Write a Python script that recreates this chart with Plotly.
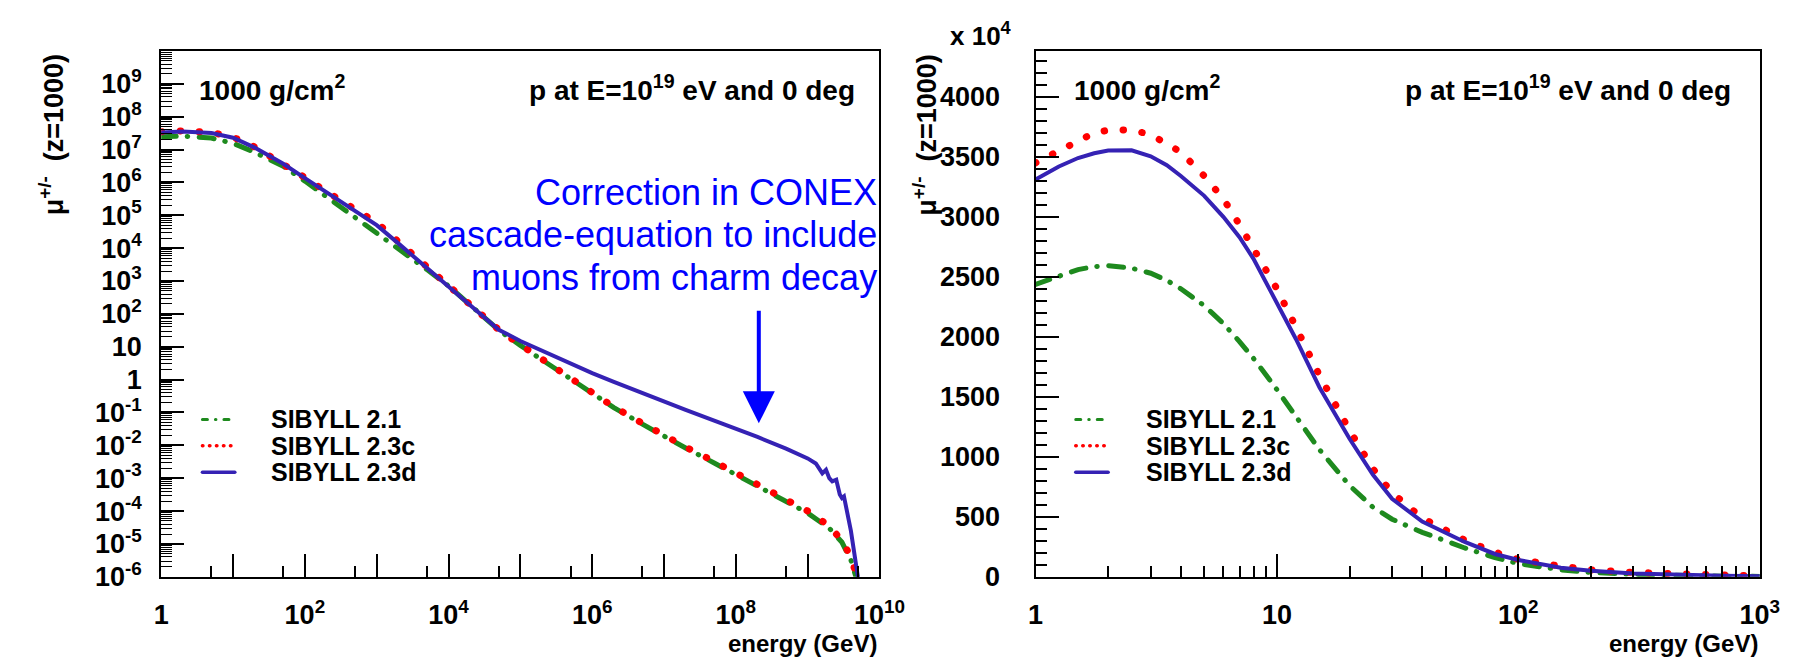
import plotly.graph_objects as go

W, H = 1813, 660


def px(x):
    return x / W


def py(y):
    return 1 - y / H


FONT = "Liberation Sans, Arial, Helvetica, sans-serif"

# ---------------- data ----------------
labels = ["SIBYLL 2.1", "SIBYLL 2.3c", "SIBYLL 2.3d"]

# Left panel: full energy range (GeV), mu+/- count
E_left = [1, 2, 5, 10, 20, 50, 100, 200, 500, 1e3, 2e3, 5e3, 1e4, 2e4, 5e4, 1e5, 2e5, 5e5,
          1e6, 2e6, 5e6, 1e7, 2e7, 5e7, 1e8, 2e8, 5e8, 1e9, 2e9, 3e9, 4e9, 5e9, 6e9]
sib21_left = [2.45e7, 2.57e7, 2.24e7, 1.55e7, 8.3e6, 3.1e6, 1.1e6, 3.7e5, 8.9e4, 3.0e4, 9.5e3,
              2.24e3, 7.1e2, 1.9e2, 32, 11, 4.0, 1.07, 0.38, 0.141, 0.044, 0.0186, 0.0083,
              0.0029, 0.0013, 5.6e-4, 2.0e-4, 8.7e-5, 3.0e-5, 1.12e-5, 3.2e-6, 6.3e-7, 1e-7]
sib23c_left = [3.47e7, 3.72e7, 3.31e7, 2.4e7, 1.2e7, 3.8e6, 1.41e6, 5.25e5, 1.5e5, 6.0e4, 1.58e4,
               2.7e3, 7.6e2, 2.0e2, 33, 11.5, 4.2, 1.12, 0.40, 0.148, 0.047, 0.020, 0.0089,
               0.0032, 0.0014, 6.3e-4, 2.2e-4, 1.0e-4, 3.5e-5, 1.26e-5, 4.0e-6, 7.9e-7, 1e-7]
E_left_d = [1, 2, 5, 10, 20, 50, 100, 200, 500, 1e3, 2e3, 5e3, 1e4, 2e4, 5e4, 1e5, 2e5, 5e5,
            1e6, 2e6, 5e6, 1e7, 2e7, 5e7, 1e8, 2e8, 5e8, 1e9, 1.3e9, 1.6e9, 1.8e9, 2e9, 2.2e9,
            2.5e9, 2.8e9, 3e9, 3.2e9, 3.5e9, 4e9, 5e9, 6e9]
sib23d_left = [3.31e7, 3.55e7, 3.18e7, 2.29e7, 1.15e7, 3.7e6, 1.35e6, 5.0e5, 1.4e5, 5.0e4, 1.4e4,
               2.5e3, 7.1e2, 1.9e2, 33, 15, 7.6, 2.95, 1.58, 0.85, 0.38, 0.21, 0.12, 0.056,
               0.032, 0.018, 0.0079, 0.004, 0.0028, 0.0014, 0.0018, 0.001, 0.0008, 0.0009,
               0.00032, 0.00025, 0.00028, 1e-4, 2.5e-5, 1e-6, 1e-7]

# Right panel: 1-1000 GeV, values in units of 10^4
E_right = [1, 1.25, 1.5, 1.75, 2, 2.5, 3, 3.5, 4, 5, 6, 7, 8, 10, 12, 15, 20, 25, 30, 40, 50,
           60, 80, 100, 150, 200, 300, 500, 700, 1000]
sib21_right = [2437, 2510, 2560, 2585, 2592, 2572, 2530, 2470, 2400, 2260, 2110, 1960, 1820,
               1560, 1340, 1060, 760, 580, 480, 370, 300, 240, 160, 110, 58, 36, 20, 8, 5, 3]
sib23c_right = [3450, 3550, 3640, 3700, 3722, 3724, 3685, 3610, 3540, 3340, 3150, 2935, 2745,
                2400, 2080, 1680, 1220, 900, 700, 490, 390, 305, 205, 145, 88, 58, 36, 18, 11, 7]
sib23d_right = [3310, 3420, 3490, 3530, 3553, 3555, 3505, 3430, 3340, 3175, 3000, 2830, 2650,
                2290, 1980, 1580, 1150, 850, 650, 460, 370, 290, 190, 140, 75, 50, 28, 14, 9, 5]

# axis ticks
left_x_ticks = [1, 10, 1e2, 1e3, 1e4, 1e5, 1e6, 1e7, 1e8, 1e9, 1e10]
left_x_text = ["1", "", "10<sup>2</sup>", "", "10<sup>4</sup>", "", "10<sup>6</sup>", "",
               "10<sup>8</sup>", "", "10<sup>10</sup>"]
left_x_minor = [5, 50, 500, 5e3, 5e4, 5e5, 5e6, 5e7, 5e8, 5e9]
left_y_ticks = [1e-6, 1e-5, 1e-4, 1e-3, 1e-2, 1e-1, 1, 10, 1e2, 1e3, 1e4, 1e5, 1e6, 1e7, 1e8, 1e9]
left_y_text = ["10<sup>-6</sup>", "10<sup>-5</sup>", "10<sup>-4</sup>", "10<sup>-3</sup>",
               "10<sup>-2</sup>", "10<sup>-1</sup>", "1", "10", "10<sup>2</sup>", "10<sup>3</sup>",
               "10<sup>4</sup>", "10<sup>5</sup>", "10<sup>6</sup>", "10<sup>7</sup>",
               "10<sup>8</sup>", "10<sup>9</sup>"]
right_x_ticks = [1, 10, 100, 1000]
right_x_text = ["1", "10", "10<sup>2</sup>", "10<sup>3</sup>"]
right_y_ticks = [0, 500, 1000, 1500, 2000, 2500, 3000, 3500, 4000]
right_y_text = ["0", "500", "1000", "1500", "2000", "2500", "3000", "3500", "4000"]

# ---------------- styles ----------------
GREEN = "#1e8a1e"
RED = "#ff0000"
BLUE = "#3522b4"
styles = {
    "SIBYLL 2.1": dict(color=GREEN, width=5, dash="15px,11px,0.5px,11.5px"),
    "SIBYLL 2.3c": dict(color=RED, width=7, dash="0.5px,18.5px"),
    "SIBYLL 2.3d": dict(color=BLUE, width=4, dash="solid"),
}
leg_styles = {
    "SIBYLL 2.1": dict(color=GREEN, width=3, dash="5px,8px,0.5px,8px"),
    "SIBYLL 2.3c": dict(color=RED, width=3.5, dash="0.5px,6.5px"),
    "SIBYLL 2.3d": dict(color=BLUE, width=3.5, dash="solid"),
}

fig = go.Figure()

left_sets = [(E_left, sib21_left), (E_left, sib23c_left), (E_left_d, sib23d_left)]
right_sets = [(E_right, sib21_right), (E_right, sib23c_right), (E_right, sib23d_right)]

for name, (ex, ey) in zip(labels, left_sets):
    fig.add_trace(go.Scatter(x=ex, y=ey, mode="lines", line=styles[name], name=name,
                             showlegend=False, xaxis="x", yaxis="y", hoverinfo="skip"))
for name, (ex, ey) in zip(labels, right_sets):
    fig.add_trace(go.Scatter(x=ex, y=ey, mode="lines", line=styles[name], name=name,
                             showlegend=False, xaxis="x2", yaxis="y2", hoverinfo="skip"))

axis_common = dict(showline=True, linecolor="black", linewidth=2, mirror=True, ticks="inside",
                   ticklen=23, tickwidth=1.5, tickcolor="black", showgrid=False, zeroline=False,
                   tickfont=dict(family=FONT, size=27, color="black", weight="bold"))

yd = [py(582), py(44)]
fig.update_layout(
    width=W, height=H, margin=dict(l=0, r=0, t=0, b=0),
    paper_bgcolor="white", plot_bgcolor="white", showlegend=False,
    xaxis=dict(type="log", range=[0, 10], domain=[px(148), px(880)], anchor="y",
               tickmode="array", tickvals=left_x_ticks, ticktext=left_x_text,
               ticklabelstandoff=13,
               minor=dict(tickmode="array", tickvals=left_x_minor, ticks="inside", ticklen=11,
                          tickwidth=1.5, tickcolor="black", showgrid=False),
               **axis_common),
    yaxis=dict(type="log", range=[-6, 10], domain=yd, anchor="x",
               tickmode="array", tickvals=left_y_ticks, ticktext=left_y_text,
               ticklabelstandoff=12,
               minor=dict(dtick="D1", ticks="inside", ticklen=11, tickwidth=1.2,
                          tickcolor="black", showgrid=False),
               **axis_common),
    xaxis2=dict(type="log", range=[0, 3], domain=[px(1039), px(1777)], anchor="y2",
                tickmode="array", tickvals=right_x_ticks, ticktext=right_x_text,
                ticklabelstandoff=13,
                minor=dict(dtick="D1", ticks="inside", ticklen=11, tickwidth=1.5,
                           tickcolor="black", showgrid=False),
                **axis_common),
    yaxis2=dict(range=[0, 4382], domain=yd, anchor="x2",
                tickmode="array", tickvals=right_y_ticks, ticktext=right_y_text,
                ticklabelstandoff=28,
                minor=dict(dtick=100, ticks="inside", ticklen=11, tickwidth=1.5,
                           tickcolor="black", showgrid=False),
                **axis_common),
)

bold = dict(family=FONT, size=28, color="black", weight="bold")
ann = []
shapes = []
for x_l, x_r in [(184, 857), (1076, 1750)]:
    ann.append(dict(text="1000 g/cm<sup>2</sup>", x=px(x_l), y=py(82), xref="paper", yref="paper",
                    xanchor="left", yanchor="middle", showarrow=False, font=bold))
    ann.append(dict(text="p at E=10<sup>19</sup> eV and 0 deg", x=px(x_r), y=py(82),
                    xref="paper", yref="paper", xanchor="right", yanchor="middle",
                    showarrow=False, font=bold))
# y-axis titles
for xt in [36, 926]:
    ann.append(dict(text="\u03bc<sup>+/-</sup>  (z=1000)", x=px(xt), y=py(130), xref="paper",
                    yref="paper", xanchor="center", yanchor="middle", textangle=-90,
                    showarrow=False, font=dict(family=FONT, size=27, color="black", weight="bold")))
# x-axis titles
for xr in [879, 1777]:
    ann.append(dict(text="energy (GeV)", x=px(xr), y=py(650), xref="paper", yref="paper",
                    xanchor="right", yanchor="middle", showarrow=False,
                    font=dict(family=FONT, size=24, color="black", weight="bold")))
# exponent factor
ann.append(dict(text="x 10<sup>4</sup>", x=px(950), y=py(27), xref="paper", yref="paper",
                xanchor="left", yanchor="middle", showarrow=False,
                font=dict(family=FONT, size=26, color="black", weight="bold")))
# legends (one per panel)
leg_rows = [421, 448, 475]
for x0, xt in [(190, 258), (1080, 1150)]:
    for name, yr in zip(labels, leg_rows):
        st = leg_styles[name]
        shapes.append(dict(type="line", xref="paper", yref="paper", x0=px(x0), x1=px(x0 + 33),
                           y0=py(yr), y1=py(yr),
                           line=dict(color=st["color"], width=st["width"], dash=st["dash"])))
        ann.append(dict(text=name, x=px(xt), y=py(yr), xref="paper", yref="paper",
                        xanchor="left", yanchor="middle", showarrow=False,
                        font=dict(family=FONT, size=25, color="black", weight="bold")))
# blue correction note
note_lines = ["Correction in CONEX", "cascade-equation to include", "muons from charm decay"]
for line, yb in zip(note_lines, [189, 232, 276]):
    ann.append(dict(text=line, x=px(879), y=py(yb), xref="paper", yref="paper",
                    xanchor="right", yanchor="middle", showarrow=False,
                    font=dict(family=FONT, size=36, color="#0000ff")))
ann.append(dict(text="", x=px(757), y=py(425), xref="paper", yref="paper", showarrow=True,
                ax=0, ay=-114, axref="pixel", ayref="pixel", arrowhead=2, arrowsize=1.6,
                arrowwidth=4, arrowcolor="#0000ff", standoff=0))
fig.update_layout(annotations=ann, shapes=shapes)

post = ("var s=document.createElement('style');"
        "s.innerHTML='.js-line, .shapelayer path{stroke-linecap:round;}';"
        "document.head.appendChild(s);")
fig.write_html("out.html", post_script=post)
